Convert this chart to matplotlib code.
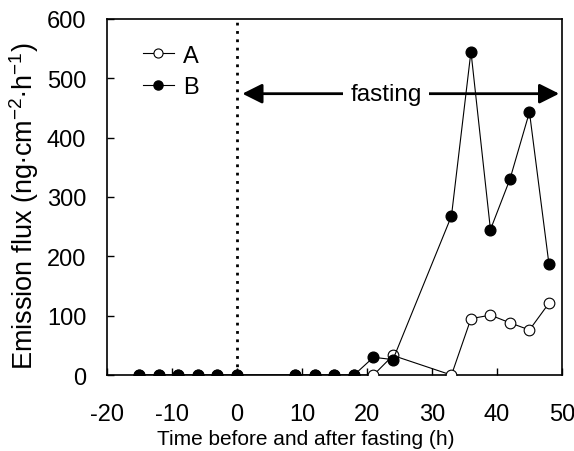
import matplotlib
matplotlib.use("Agg")
import matplotlib.pyplot as plt

plt.rcParams['font.family'] = ['Liberation Sans', 'DejaVu Sans']
plt.rcParams['mathtext.fontset'] = 'custom'
plt.rcParams['mathtext.rm'] = 'Liberation Sans'
plt.rcParams['mathtext.it'] = 'Liberation Sans'
plt.rcParams['axes.unicode_minus'] = False

# time (h) relative to start of fasting
TIME = [-15, -12, -9, -6, -3, 0, 9, 12, 15, 18, 21, 24, 33, 36, 39, 42, 45, 48]
# emission flux (ng cm-2 h-1)
A_VALS = [0, 0, 0, 0, 0, 0, 0, 0, 0, 0, 0, 33, 0, 95, 101, 88, 76, 121]
B_VALS = [0, 0, 0, 0, 0, 0, 0, 0, 0, 0, 30, 26, 268, 545, 245, 330, 443, 187]

fig = plt.figure(figsize=(5.74, 4.52), dpi=100)
ax = fig.add_axes([0.1864, 0.168, 0.7926, 0.788])

ax.plot(TIME, A_VALS, color="black", lw=0.8, marker="o", ms=7.7,
        mfc="white", mec="black", mew=0.8, label="A", zorder=3)
ax.plot(TIME, B_VALS, color="black", lw=0.8, marker="o", ms=7.7,
        mfc="black", mec="black", label="B", zorder=4)

# start of fasting
ax.plot([0, 0], [0, 600], color="black", ls=(0, (1, 2)), lw=2, zorder=2)

# fasting arrow
ax.annotate("", xy=(0.4, 474), xytext=(22.9, 474),
            arrowprops=dict(arrowstyle="-|>", color="black", lw=2, mutation_scale=30))
ax.annotate("", xy=(50, 474), xytext=(22.9, 474),
            arrowprops=dict(arrowstyle="-|>", color="black", lw=2, mutation_scale=30))
ax.text(22.9, 474, "fasting", ha="center", va="center", fontsize=17.5,
        bbox=dict(facecolor="white", edgecolor="none", pad=5), zorder=5)

ax.set_xlim(-20, 50)
ax.set_ylim(0, 600)
ax.set_xticks(range(-20, 51, 10))
ax.set_yticks(range(0, 601, 100))
ax.tick_params(direction="in", length=5, width=1, labelsize=17)
ax.tick_params(axis="x", pad=20)
ax.tick_params(axis="y", pad=15)
for s in ax.spines.values():
    s.set_linewidth(1.2)

ax.set_xlabel("Time before and after fasting (h)", fontsize=15)
ax.xaxis.set_label_coords(0.437, -0.152)
ax.set_ylabel(r"Emission flux (ng$\bullet$cm$^{-2}$$\bullet$h$^{-1}$)", fontsize=19.5)
ax.yaxis.set_label_coords(-0.145, 0.478)

ax.legend(loc="upper left", frameon=False, fontsize=17, handlelength=1.3,
          handletextpad=0.4, labelspacing=0.42, borderpad=0, borderaxespad=0,
          bbox_to_anchor=(0.079, 0.928), markerscale=0.85)

fig.savefig("out.png", dpi=100)
